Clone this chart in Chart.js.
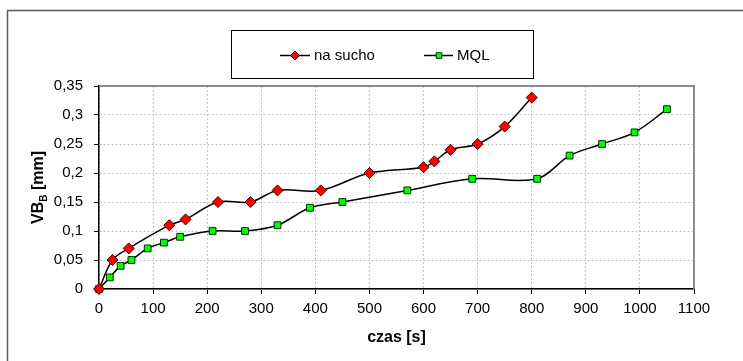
<!DOCTYPE html>
<html>
<head>
<meta charset="utf-8">
<script src="https://cdn.jsdelivr.net/npm/chart.js@4/dist/chart.umd.min.js"></script>
<style>
  html, body { margin: 0; padding: 0; background: #fff; overflow: hidden; }
  #wrap { width: 743px; height: 361px; }
</style>
</head>
<body>
<div id="wrap"><canvas id="wykres" width="743" height="361"></canvas></div>
<script>
// ================== Dane ==================
const czasSucho = [0, 25, 55, 130, 160, 220, 280, 330, 410, 500, 600, 620, 650, 700, 750, 800];
const vbSucho   = [0, 0.05, 0.07, 0.11, 0.12, 0.15, 0.15, 0.17, 0.17, 0.2, 0.21, 0.22, 0.24, 0.25, 0.28, 0.33];

const czasMQL = [0, 20, 40, 60, 90, 120, 150, 210, 270, 330, 390, 450, 570, 690, 810, 870, 930, 990, 1050];
const vbMQL   = [0, 0.02, 0.04, 0.05, 0.07, 0.08, 0.09, 0.1, 0.1, 0.11, 0.14, 0.15, 0.17, 0.19, 0.19, 0.23, 0.25, 0.27, 0.31];

const xTickLabels = ['0','100','200','300','400','500','600','700','800','900','1000','1100'];
const yTickLabels = ['0','0,05','0,1','0,15','0,2','0,25','0,3','0,35'];

const nazwySerii = ['na sucho', 'MQL'];

const FONT = '"Liberation Sans", Arial, sans-serif';

function punkty(xs, ys) {
  return xs.map((x, i) => ({ x: x, y: ys[i] }));
}

// ================== Pluginy ==================
// ramka wykresu, szara ramka obszaru i własna legenda
const ramkaPlugin = {
  id: 'ramka',
  beforeDraw(chart) {
    const ctx = chart.ctx;
    ctx.save();
    ctx.fillStyle = '#fff';
    ctx.fillRect(0, 0, chart.width, chart.height);
    ctx.strokeStyle = '#5a5a5a';
    ctx.lineWidth = 1.5;
    ctx.strokeRect(7.5, 10.5, 900, 500);
    ctx.restore();
  },
  beforeDatasetsDraw(chart) {
    const { ctx, chartArea: a } = chart;
    ctx.save();
    ctx.strokeStyle = '#8c8c8c';
    ctx.lineWidth = 2;
    ctx.beginPath();
    ctx.moveTo(a.left, a.top);
    ctx.lineTo(a.right, a.top);
    ctx.lineTo(a.right, a.bottom);
    ctx.stroke();
    ctx.restore();
  },
  afterDraw(chart) {
    const ctx = chart.ctx;
    const a = chart.chartArea;
    ctx.save();

    // legenda
    ctx.strokeStyle = '#000';
    ctx.lineWidth = 1;
    ctx.strokeRect(231.5, 30.5, 302, 48);

    const ly = 55.5;
    const wpisy = [
      { x0: 280, x1: 310, xm: 295, tx: 314, ds: chart.data.datasets[0] },
      { x0: 424, x1: 453, xm: 439, tx: 457, ds: chart.data.datasets[1] }
    ];
    wpisy.forEach(w => {
      ctx.strokeStyle = '#000';
      ctx.lineWidth = 1.5;
      ctx.beginPath();
      ctx.moveTo(w.x0, ly);
      ctx.lineTo(w.x1, ly);
      ctx.stroke();
      ctx.fillStyle = w.ds.pointBackgroundColor;
      ctx.strokeStyle = w.ds.pointBorderColor;
      ctx.lineWidth = 1;
      Chart.helpers.drawPoint(ctx, { pointStyle: w.ds.pointStyle, radius: w.ds.pointStyle === 'rect' ? 4 : 4.5, borderWidth: 1 }, w.xm, ly);
      ctx.fillStyle = '#000';
      ctx.font = '15px ' + FONT;
      ctx.textBaseline = 'middle';
      ctx.textAlign = 'left';
      ctx.fillText(w.ds.label, w.tx, ly);
    });

    // tytuł osi Y z indeksem dolnym: VB_B [mm]
    const cy = (a.top + a.bottom) / 2;
    ctx.translate(39, cy);
    ctx.rotate(-Math.PI / 2);
    ctx.fillStyle = '#000';
    ctx.textBaseline = 'middle';
    ctx.textAlign = 'left';
    const fDuzy = 'bold 16px ' + FONT;
    const fMaly = 'bold 10px ' + FONT;
    ctx.font = fDuzy;
    const w1 = ctx.measureText('VB').width;
    const w3 = ctx.measureText(' [mm]').width;
    ctx.font = fMaly;
    const w2 = ctx.measureText('B').width;
    let x = -(w1 + w2 + w3) / 2;
    ctx.font = fDuzy;
    ctx.fillText('VB', x, 0);
    x += w1;
    ctx.font = fMaly;
    ctx.fillText('B', x, 5);
    x += w2;
    ctx.font = fDuzy;
    ctx.fillText(' [mm]', x, 0);
    ctx.restore();
  }
};

// ================== Wykres ==================
const ctxWykres = document.getElementById('wykres').getContext('2d');
new Chart(ctxWykres, {
  type: 'line',
  data: {
    datasets: [
      {
        label: nazwySerii[0],
        data: punkty(czasSucho, vbSucho),
        borderColor: '#000',
        borderWidth: 1.5,
        tension: 0.35,
        pointStyle: 'rectRot',
        pointRadius: 5.5,
        pointBackgroundColor: '#ff0000',
        pointBorderColor: '#400000',
        pointBorderWidth: 1,
        clip: false
      },
      {
        label: nazwySerii[1],
        data: punkty(czasMQL, vbMQL),
        borderColor: '#000',
        borderWidth: 1.5,
        tension: 0.35,
        pointStyle: 'rect',
        pointRadius: 4.8,
        pointBackgroundColor: '#00ff00',
        pointBorderColor: '#003000',
        pointBorderWidth: 1,
        clip: false
      }
    ]
  },
  options: {
    responsive: false,
    animation: false,
    events: [],
    layout: { padding: { left: 0, right: 49, top: 86, bottom: 0 } },
    plugins: {
      legend: { display: false },
      tooltip: { enabled: false }
    },
    scales: {
      x: {
        type: 'linear',
        min: 0,
        max: 1100,
        afterFit: s => { s.height = 72; },
        ticks: {
          stepSize: 100,
          padding: 6,
          color: '#000',
          font: { family: FONT, size: 15 },
          maxRotation: 0,
          callback: (v, i) => xTickLabels[i]
        },
        grid: { color: '#c4c4c4', tickColor: '#000', tickLength: 5, lineWidth: 1 },
        border: { color: '#000', width: 1.5, dash: [2, 2] },
        title: {
          display: true,
          text: 'czas [s]',
          color: '#000',
          font: { family: FONT, size: 16, weight: 'bold' },
          padding: { top: 0, bottom: 14 }
        }
      },
      y: {
        min: 0,
        max: 0.35,
        afterFit: s => { s.width = 99; },
        ticks: {
          stepSize: 0.05,
          padding: 11,
          color: '#000',
          font: { family: FONT, size: 15 },
          callback: (v, i) => yTickLabels[i]
        },
        grid: { color: '#c4c4c4', tickColor: '#000', tickLength: 5, lineWidth: 1 },
        border: { color: '#000', width: 1.5, dash: [2, 2] },
        title: { display: false }
      }
    }
  },
  plugins: [ramkaPlugin]
});
</script>
</body>
</html>
